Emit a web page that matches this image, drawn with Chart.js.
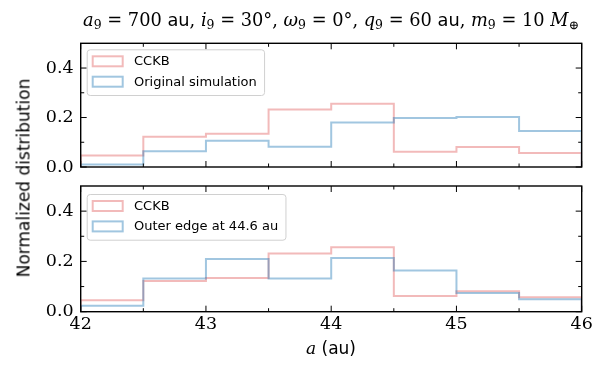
<!DOCTYPE html>
<html><head><meta charset="utf-8">
<script src="https://cdn.jsdelivr.net/npm/chart.js@4.4.1/dist/chart.umd.min.js"></script>
<style>
html,body{margin:0;padding:0;background:#fff;}
#wrap{position:relative;width:603px;height:367px;overflow:hidden;background:#fff;}
canvas{position:absolute;left:0;}
.ov{position:absolute;white-space:nowrap;color:#000;line-height:1;}
#title{left:331px;top:10px;transform:translateX(-50%);font-family:"DejaVu Serif";font-size:17.8px;line-height:20px;}
#title i{font-style:italic;}
#title sub{font-size:70%;vertical-align:-0.28em;line-height:0;font-style:normal;}
.sans{font-family:"DejaVu Sans";}
#ylab{left:23.5px;top:177.5px;transform:translate(-50%,-50%) rotate(-90deg);font-family:"DejaVu Sans";font-size:17px;}
#xlab{left:331px;top:348px;transform:translate(-50%,-50%);font-family:"DejaVu Sans";font-size:17px;}
#xlab i{font-family:"DejaVu Serif";}
</style></head><body>
<div id="wrap">
<canvas id="c1" width="603" height="178" style="top:0px"></canvas>
<canvas id="c2" width="603" height="189" style="top:178px"></canvas>
<div id="title" class="ov"><i>a</i><sub>9</sub> = 700 <span class="sans">au</span>, <i>i</i><sub>9</sub> = 30°, <i>ω</i><sub>9</sub> = 0°, <i>q</i><sub>9</sub> = 60 <span class="sans">au</span>, <i>m</i><sub>9</sub> = 10 <i>M</i><sub>⊕</sub></div>
<div id="ylab" class="ov">Normalized distribution</div>
<div id="xlab" class="ov"><i>a</i> (au)</div>
</div>
<script>
// ---- data ----
const binEdges = [42, 42.5, 43, 43.5, 44, 44.5, 45, 45.5, 46];
const cckb = [0.046, 0.122, 0.134, 0.232, 0.256, 0.062, 0.081, 0.057];
const originalSimulation = [0.010, 0.064, 0.106, 0.082, 0.180, 0.198, 0.202, 0.146];
const outerEdge446 = [0.024, 0.132, 0.210, 0.132, 0.214, 0.164, 0.074, 0.050];
const xMajorTicks = [42, 43, 44, 45, 46];
const xMinorTicks = [42.5, 43.5, 44.5, 45.5];
const yMajorTicks = [0.0, 0.2, 0.4];
const yMinorTicks = [0.1, 0.3];
const xLabels = ['42', '43', '44', '45', '46'];
const yLabels = ['0.0', '0.2', '0.4'];

const PINK = 'rgba(214,39,40,0.32)';
const BLUE = 'rgba(31,119,180,0.42)';

function stepData(vals) {
  const pts = [{x: binEdges[0], y: 0}];
  vals.forEach((v, i) => pts.push({x: binEdges[i], y: v}));
  pts.push({x: binEdges[binEdges.length - 1], y: vals[vals.length - 1]});
  pts.push({x: binEdges[binEdges.length - 1], y: 0});
  return pts;
}

const frameTicks = {
  id: 'frameTicks',
  afterDatasetsDraw(chart) {
    const {ctx, chartArea: a, scales: {x, y}} = chart;
    ctx.save();
    ctx.strokeStyle = '#000';
    ctx.lineWidth = 1;
    const seg = (x1, y1, x2, y2) => { ctx.beginPath(); ctx.moveTo(x1, y1); ctx.lineTo(x2, y2); ctx.stroke(); };
    const xt = (vals, len) => vals.forEach(v => { const p = x.getPixelForValue(v); seg(p, a.bottom, p, a.bottom - len); seg(p, a.top, p, a.top + len); });
    const yt = (vals, len) => vals.forEach(v => { const p = y.getPixelForValue(v); seg(a.left, p, a.left + len, p); seg(a.right, p, a.right - len, p); });
    xt(xMajorTicks, 6); xt(xMinorTicks, 3.5);
    yt(yMajorTicks, 6); yt(yMinorTicks, 3.5);
    ctx.lineWidth = 1.4;
    ctx.strokeRect(a.left, a.top, a.right - a.left, a.bottom - a.top);
    ctx.restore();
  }
};

const boxLegend = {
  id: 'boxLegend',
  afterDatasetsDraw(chart, args, opts) {
    const {ctx, chartArea: a} = chart;
    const items = chart.data.datasets;
    ctx.save();
    ctx.font = '13px "DejaVu Sans"';
    const tw = Math.max(...items.map(d => ctx.measureText(d.label).width));
    const x0 = a.left + 6, y0 = a.top + opts.offsetY;
    const w = 47.3 + tw + 7.3, h = 45.7;
    ctx.beginPath();
    ctx.roundRect(x0 + 0.5, y0 + 0.5, w, h, 3);
    ctx.fillStyle = 'rgba(255,255,255,0.8)';
    ctx.fill();
    ctx.strokeStyle = '#d0d0d0';
    ctx.lineWidth = 1;
    ctx.stroke();
    items.forEach((d, i) => {
      const cy = y0 + 12 + i * 20.4;
      ctx.strokeStyle = d.borderColor;
      ctx.lineWidth = 2;
      ctx.strokeRect(x0 + 6, cy - 5, 30, 10);
      ctx.fillStyle = '#000';
      ctx.textBaseline = 'middle';
      ctx.fillText(d.label, x0 + 47.3, cy + 0.5);
    });
    ctx.restore();
  }
};

function zeroPad(s) { s.paddingTop = 0; s.paddingBottom = 0; s.paddingLeft = 0; s.paddingRight = 0; }

function makePanel(id, series, cfg) {
  return new Chart(document.getElementById(id), {
    type: 'line',
    data: {
      datasets: series.map(s => ({
        label: s.label, data: stepData(s.values), borderColor: s.color,
        backgroundColor: 'rgba(0,0,0,0)', borderWidth: 2, pointRadius: 0,
        stepped: 'before', fill: false, order: s.order
      }))
    },
    options: {
      responsive: false, animation: false, devicePixelRatio: 1,
      layout: {padding: {left: 0, right: 21.3, top: cfg.padTop, bottom: cfg.padBottom}},
      scales: {
        x: {
          type: 'linear', min: 42, max: 46,
          afterBuildTicks: s => { s.ticks = xMajorTicks.map(v => ({value: v})); },
          ticks: {display: cfg.showX, autoSkip: false, maxRotation: 0, padding: 2, color: '#000',
            font: {family: 'DejaVu Serif', size: 17.5},
            callback: (v, i) => xLabels[i]},
          grid: {display: false, drawTicks: false}, border: {display: false},
          afterFit: s => { s.height = cfg.xHeight; zeroPad(s); }
        },
        y: {
          type: 'linear', min: 0, max: 0.5,
          afterBuildTicks: s => { s.ticks = yMajorTicks.map(v => ({value: v})); },
          ticks: {padding: 7, color: '#000', font: {family: 'DejaVu Serif', size: 17.5},
            callback: (v, i) => yLabels[i]},
          grid: {display: false, drawTicks: false}, border: {display: false},
          afterFit: s => { s.width = 80.7; zeroPad(s); }
        }
      },
      plugins: {legend: {display: false}, tooltip: {enabled: false},
        boxLegend: {offsetY: cfg.legendY}}
    },
    plugins: [frameTicks, boxLegend]
  });
}

makePanel('c1', [
  {label: 'CCKB', values: cckb, color: PINK, order: 2},
  {label: 'Original simulation', values: originalSimulation, color: BLUE, order: 1}
], {padTop: 43.3, padBottom: 11, xHeight: 0, showX: false, legendY: 6});

makePanel('c2', [
  {label: 'CCKB', values: cckb, color: PINK, order: 2},
  {label: 'Outer edge at 44.6 au', values: outerEdge446, color: BLUE, order: 1}
], {padTop: 8, padBottom: 0, xHeight: 55.3, showX: true, legendY: 8});
</script>
</body></html>
